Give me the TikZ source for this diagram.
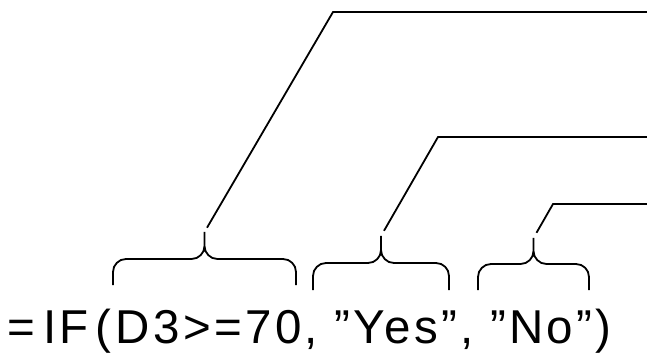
\documentclass[tikz,border=0pt]{standalone}
\usepackage{fontspec}
\usepackage{tikz}
\usetikzlibrary{calc}
\newfontfamily\formulafont[LetterSpace=7.0]{Liberation Sans}
\definecolor{InkBlack}{RGB}{0,0,0}

\begin{document}
\begin{tikzpicture}[x=1pt,y=1pt,
	formula/.style={inner sep=0pt,font=\formulafont\fontsize{47.5}{52}\selectfont,text=InkBlack},
	bracepath/.style={draw=InkBlack,line width=1.8pt,rounded corners=13pt},
	leader/.style={draw=InkBlack,line width=1.8pt}]
	
	\useasboundingbox (0,0) rectangle (647,356);
	
	\node[formula,anchor=base west] (formula) at (7,13) {=\hspace{9pt}I\hspace{2pt}F\hspace{7pt}(\hspace{5pt}D3>=70, ”Yes”, ”No”)};
	
	% braces over the three arguments
	\coordinate (condL) at (113,71);
	\coordinate (condR) at (296,71);
	\coordinate (condMid) at (204.5,97);
	\coordinate (condTip) at (204.5,124);
	
	\coordinate (yesL) at (313,66);
	\coordinate (yesR) at (449,66);
	\coordinate (yesMid) at (381,93);
	\coordinate (yesTip) at (381,120);
	
	\coordinate (noL) at (478,66);
	\coordinate (noR) at (589,66);
	\coordinate (noMid) at (533.5,92);
	\coordinate (noTip) at (533.5,118);
	
	\draw[bracepath] (condL) |- (condMid) -- (condTip) (condR) |- (condMid) -- (condTip);
	\draw[bracepath] (yesL) |- (yesMid) -- (yesTip) (yesR) |- (yesMid) -- (yesTip);
	\draw[bracepath] (noL) |- (noMid) -- (noTip) (noR) |- (noMid) -- (noTip);
	
	% leader lines to the right edge
	\coordinate (condBend) at (333,344);
	\coordinate (condEnd) at (647,344);
	\coordinate (yesBend) at (438,219);
	\coordinate (yesEnd) at (647,219);
	\coordinate (noBend) at (553,152);
	\coordinate (noEnd) at (647,152);
	
	\draw[leader] ($(condTip)!5pt!(condBend)$) -- (condBend) -- (condEnd);
	\draw[leader] ($(yesTip)!6pt!(yesBend)$) -- (yesBend) -- (yesEnd);
	\draw[leader] ($(noTip)!6pt!(noBend)$) -- (noBend) -- (noEnd);
	
\end{tikzpicture}
\end{document}
